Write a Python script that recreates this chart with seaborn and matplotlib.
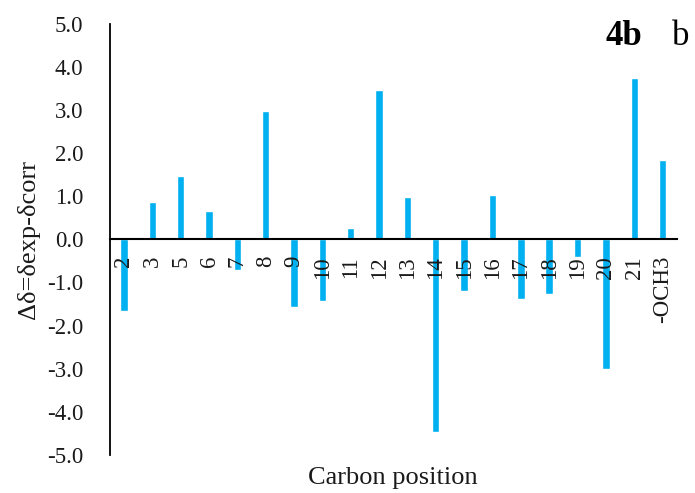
import matplotlib
matplotlib.use("Agg")
import matplotlib.pyplot as plt
import seaborn as sns
import pandas as pd

# Carbon positions and shift differences (experimental minus corrected)
positions = ["2", "3", "5", "6", "7", "8", "9", "10", "11", "12", "13", "14",
             "15", "16", "17", "18", "19", "20", "21", "-OCH3"]
delta = [-1.67, 0.86, 1.46, 0.65, -0.72, 2.97, -1.58, -1.42, 0.27, 3.45, 0.97,
         -4.46, -1.20, 1.02, -1.39, -1.26, -0.41, -3.00, 3.74, 1.83]
y_ticks = [5.0, 4.0, 3.0, 2.0, 1.0, 0.0, -1.0, -2.0, -3.0, -4.0, -5.0]

df = pd.DataFrame({"position": positions, "delta": delta})

sns.set_theme(style="white")
plt.rcParams["font.family"] = ["Liberation Serif", "DejaVu Serif"]

fig = plt.figure(figsize=(6.95, 4.93), dpi=100)
ax = fig.add_axes([0.158, 0.0771, 0.8157, 0.8752])

sns.barplot(data=df, x="position", y="delta", order=positions,
            color="#00B0F0", saturation=1, width=0.26, ax=ax)

ax.set_ylim(-5, 5)
ax.set_xlim(-0.5, len(positions) - 0.5)
ax.set_yticks(y_ticks)
ax.set_yticklabels([f"{v:.1f}" for v in y_ticks], fontsize=16.5, color="#1a1a1a")

# Category axis runs along the zero line, labels rotated and drawn over the bars
ax.set_axisbelow(False)
ax.spines["bottom"].set_position(("data", 0))
for side in ("top", "right"):
    ax.spines[side].set_visible(False)
ax.spines["left"].set_color("black")
ax.spines["bottom"].set_color("black")
ax.spines["left"].set_linewidth(1.3)
ax.spines["bottom"].set_linewidth(1.5)

ax.tick_params(axis="x", length=0, pad=12, labelsize=16.5, labelcolor="#1a1a1a")
ax.tick_params(axis="y", length=0, pad=19)
for lbl in ax.get_xticklabels():
    lbl.set_rotation(90)
    lbl.set_ha("center")
    lbl.set_va("top")

ax.set_xlabel("")
ax.set_ylabel("Δδ=δexp-δcorr", fontsize=19, color="#1a1a1a")
ax.yaxis.set_label_coords(-0.123, 0.5)
fig.text(0.5655, 0.03, "Carbon position", ha="center", va="center",
         fontsize=19, color="#1a1a1a")

fig.text(605 / 695, 1 - 45 / 493, "4b", fontsize=25, fontweight="bold",
         ha="left", va="baseline", color="black")
fig.text(672 / 695, 1 - 45 / 493, "b", fontsize=25,
         ha="left", va="baseline", color="black")

fig.savefig("out.png", dpi=100)
